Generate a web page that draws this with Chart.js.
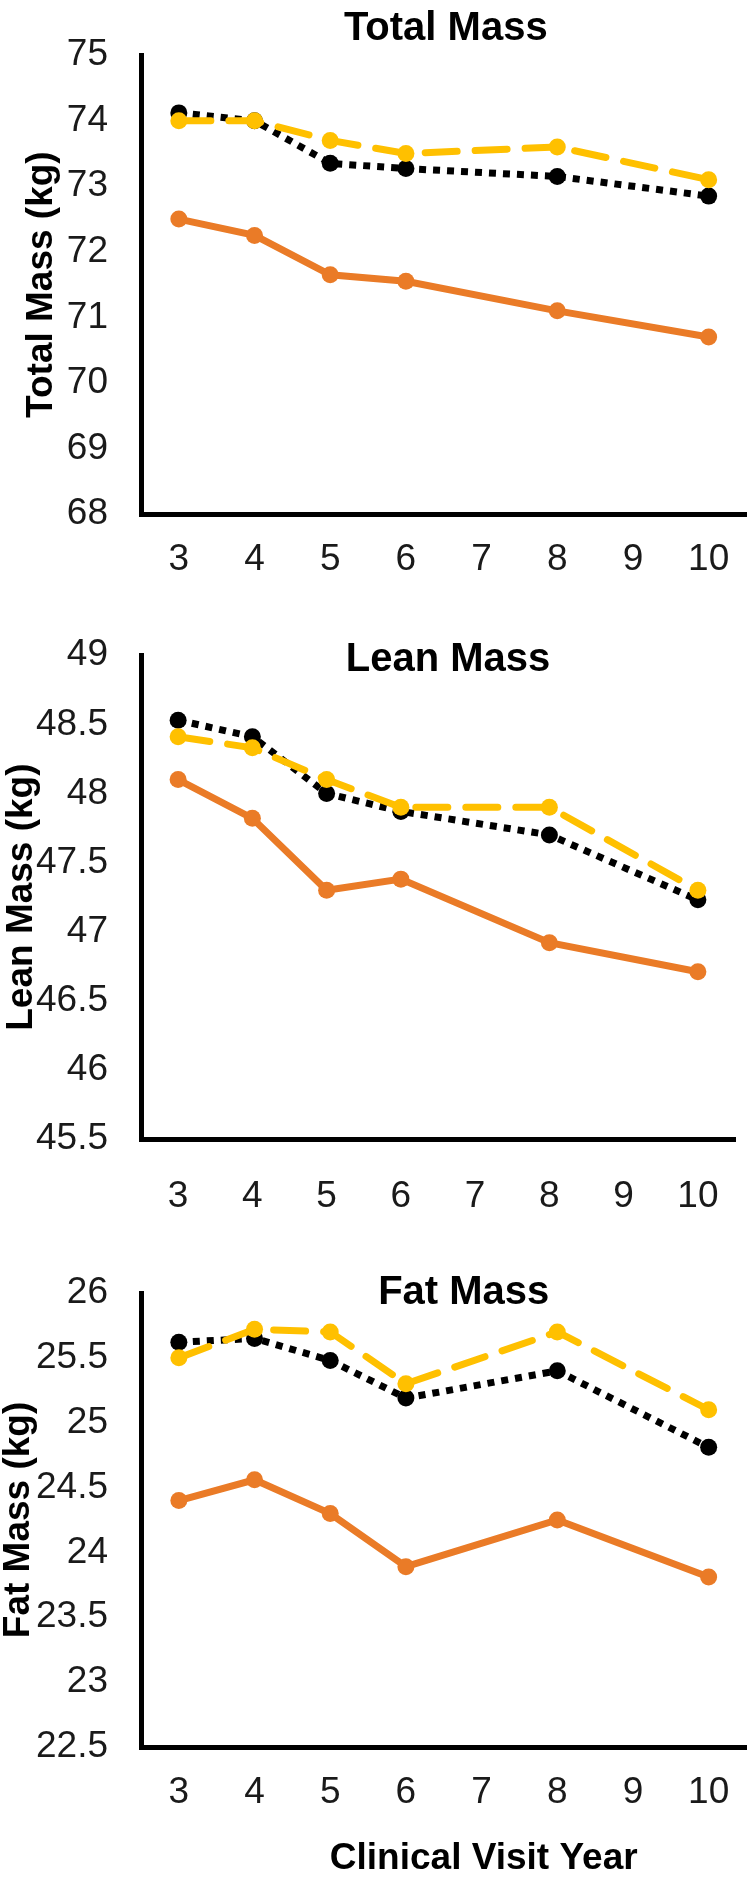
<!DOCTYPE html>
<html>
<head>
<meta charset="utf-8">
<script src="https://cdn.jsdelivr.net/npm/chart.js@4.4.1/dist/chart.umd.min.js"></script>
<style>
  html, body { margin: 0; padding: 0; background: #fff; }
  #page { position: relative; width: 755px; height: 1880px; overflow: hidden; }
  #page canvas { position: absolute; left: 0; }
</style>
</head>
<body>
<div id="page">
  <canvas id="total-chart" width="755" height="600" style="top:0px"></canvas>
  <canvas id="lean-chart" width="755" height="620" style="top:600px"></canvas>
  <canvas id="fat-chart" width="755" height="660" style="top:1220px"></canvas>
</div>
<script>
  // visit years on the x axis (no measurements at 7 and 9)
  const visitYears = ['3', '4', '5', '6', '7', '8', '9', '10'];

  const totalOrange = [72.5, 72.25, 71.65, 71.55, null, 71.1, null, 70.7];
  const totalBlack = [74.12, 74.0, 73.35, 73.27, null, 73.15, null, 72.85];
  const totalYellow = [74.0, 74.0, 73.7, 73.5, null, 73.6, null, 73.1];

  const leanOrange = [48.1, 47.82, 47.3, 47.38, null, 46.92, null, 46.71];
  const leanBlack = [48.53, 48.41, 48.0, 47.87, null, 47.7, null, 47.23];
  const leanYellow = [48.41, 48.33, 48.1, 47.9, null, 47.9, null, 47.3];

  const fatOrange = [24.4, 24.56, 24.3, 23.89, null, 24.25, null, 23.81];
  const fatBlack = [25.62, 25.65, 25.48, 25.19, null, 25.4, null, 24.81];
  const fatYellow = [25.5, 25.72, 25.7, 25.3, null, 25.7, null, 25.1];

  const FONT = "'Liberation Sans', Arial, sans-serif";
  Chart.defaults.font.family = FONT;

  const orangeStyle = { color: '#EA7B27', dash: [], cap: 'round' };
  const blackStyle = { color: '#000000', dash: [7, 7], cap: 'butt' };
  const yellowStyle = { color: '#FFC000', dash: [32, 18], cap: 'round' };

  function lineDataset(values, style) {
    return {
      data: values,
      borderColor: style.color,
      backgroundColor: style.color,
      borderWidth: 7,
      borderDash: style.dash,
      borderCapStyle: style.cap,
      pointRadius: 8.5,
      pointBorderWidth: 0,
      pointBackgroundColor: style.color,
      spanGaps: true,
      tension: 0
    };
  }

  // titles drawn inside the plot area (and the shared x axis title)
  function panelText(items) {
    return {
      id: 'panelText',
      afterDraw(chart) {
        const { ctx, chartArea } = chart;
        const cx = (chartArea.left + chartArea.right) / 2;
        ctx.save();
        ctx.fillStyle = '#000';
        ctx.textAlign = 'center';
        ctx.textBaseline = 'alphabetic';
        items.forEach(item => {
          ctx.font = `bold ${item.size}px ${FONT}`;
          ctx.fillText(item.text, cx + item.dx, item.y);
        });
        ctx.restore();
      }
    };
  }

  function drawPanel(canvasId, panel) {
    new Chart(document.getElementById(canvasId), {
      type: 'line',
      data: {
        labels: visitYears,
        datasets: [
          lineDataset(panel.yellow, yellowStyle),
          lineDataset(panel.black, blackStyle),
          lineDataset(panel.orange, orangeStyle)
        ]
      },
      plugins: [panelText(panel.texts)],
      options: {
        responsive: false,
        animation: false,
        devicePixelRatio: 1,
        layout: {
          padding: { top: panel.padTop, bottom: panel.padBottom, left: 0, right: 6 }
        },
        plugins: {
          legend: { display: false },
          tooltip: { enabled: false }
        },
        scales: {
          x: {
            offset: true,
            grid: { display: false, drawTicks: false },
            border: { display: true, color: '#000', width: 5 },
            ticks: {
              padding: panel.xTickPad,
              color: '#1a1a1a',
              font: { size: 37 },
              autoSkip: false,
              maxRotation: 0
            },
            // labels are clipped to the scale box, so keep it tall enough
            afterFit: scale => { scale.height = 80; }
          },
          y: {
            min: panel.yMin,
            max: panel.yMax,
            grid: { display: false, drawTicks: false },
            border: { display: true, color: '#000', width: 5 },
            ticks: {
              stepSize: panel.yStep,
              padding: 33,
              color: '#1a1a1a',
              font: { size: 37 },
              callback: v => String(Math.round(v * 10) / 10)
            },
            title: {
              display: true,
              text: panel.yTitle,
              color: '#000',
              font: { size: 37, weight: 'bold', lineHeight: 1 },
              padding: { top: panel.yTitlePad, bottom: 0 }
            },
            afterFit: scale => { scale.width = 141; }
          }
        }
      }
    });
  }

  drawPanel('total-chart', {
    orange: totalOrange, black: totalBlack, yellow: totalYellow,
    yMin: 68, yMax: 75, yStep: 1,
    yTitle: 'Total Mass (kg)', yTitlePad: 23,
    padTop: 21, padBottom: 6, xTickPad: 24,
    texts: [{ text: 'Total Mass', size: 40, dx: 2, y: 40 }]
  });

  drawPanel('lean-chart', {
    orange: leanOrange, black: leanBlack, yellow: leanYellow,
    yMin: 45.5, yMax: 49, yStep: 0.5,
    yTitle: 'Lean Mass (kg)', yTitlePad: 3,
    padTop: 43, padBottom: 1, xTickPad: 36,
    texts: [{ text: 'Lean Mass', size: 40, dx: 10, y: 71 }]
  });

  drawPanel('fat-chart', {
    orange: fatOrange, black: fatBlack, yellow: fatYellow,
    yMin: 22.5, yMax: 26, yStep: 0.5,
    yTitle: 'Fat Mass (kg)', yTitlePad: 0,
    padTop: 73, padBottom: 53, xTickPad: 24,
    texts: [
      { text: 'Fat Mass', size: 40, dx: 20, y: 84 },
      { text: 'Clinical Visit Year', size: 37, dx: 40, y: 649 }
    ]
  });
</script>
</body>
</html>
